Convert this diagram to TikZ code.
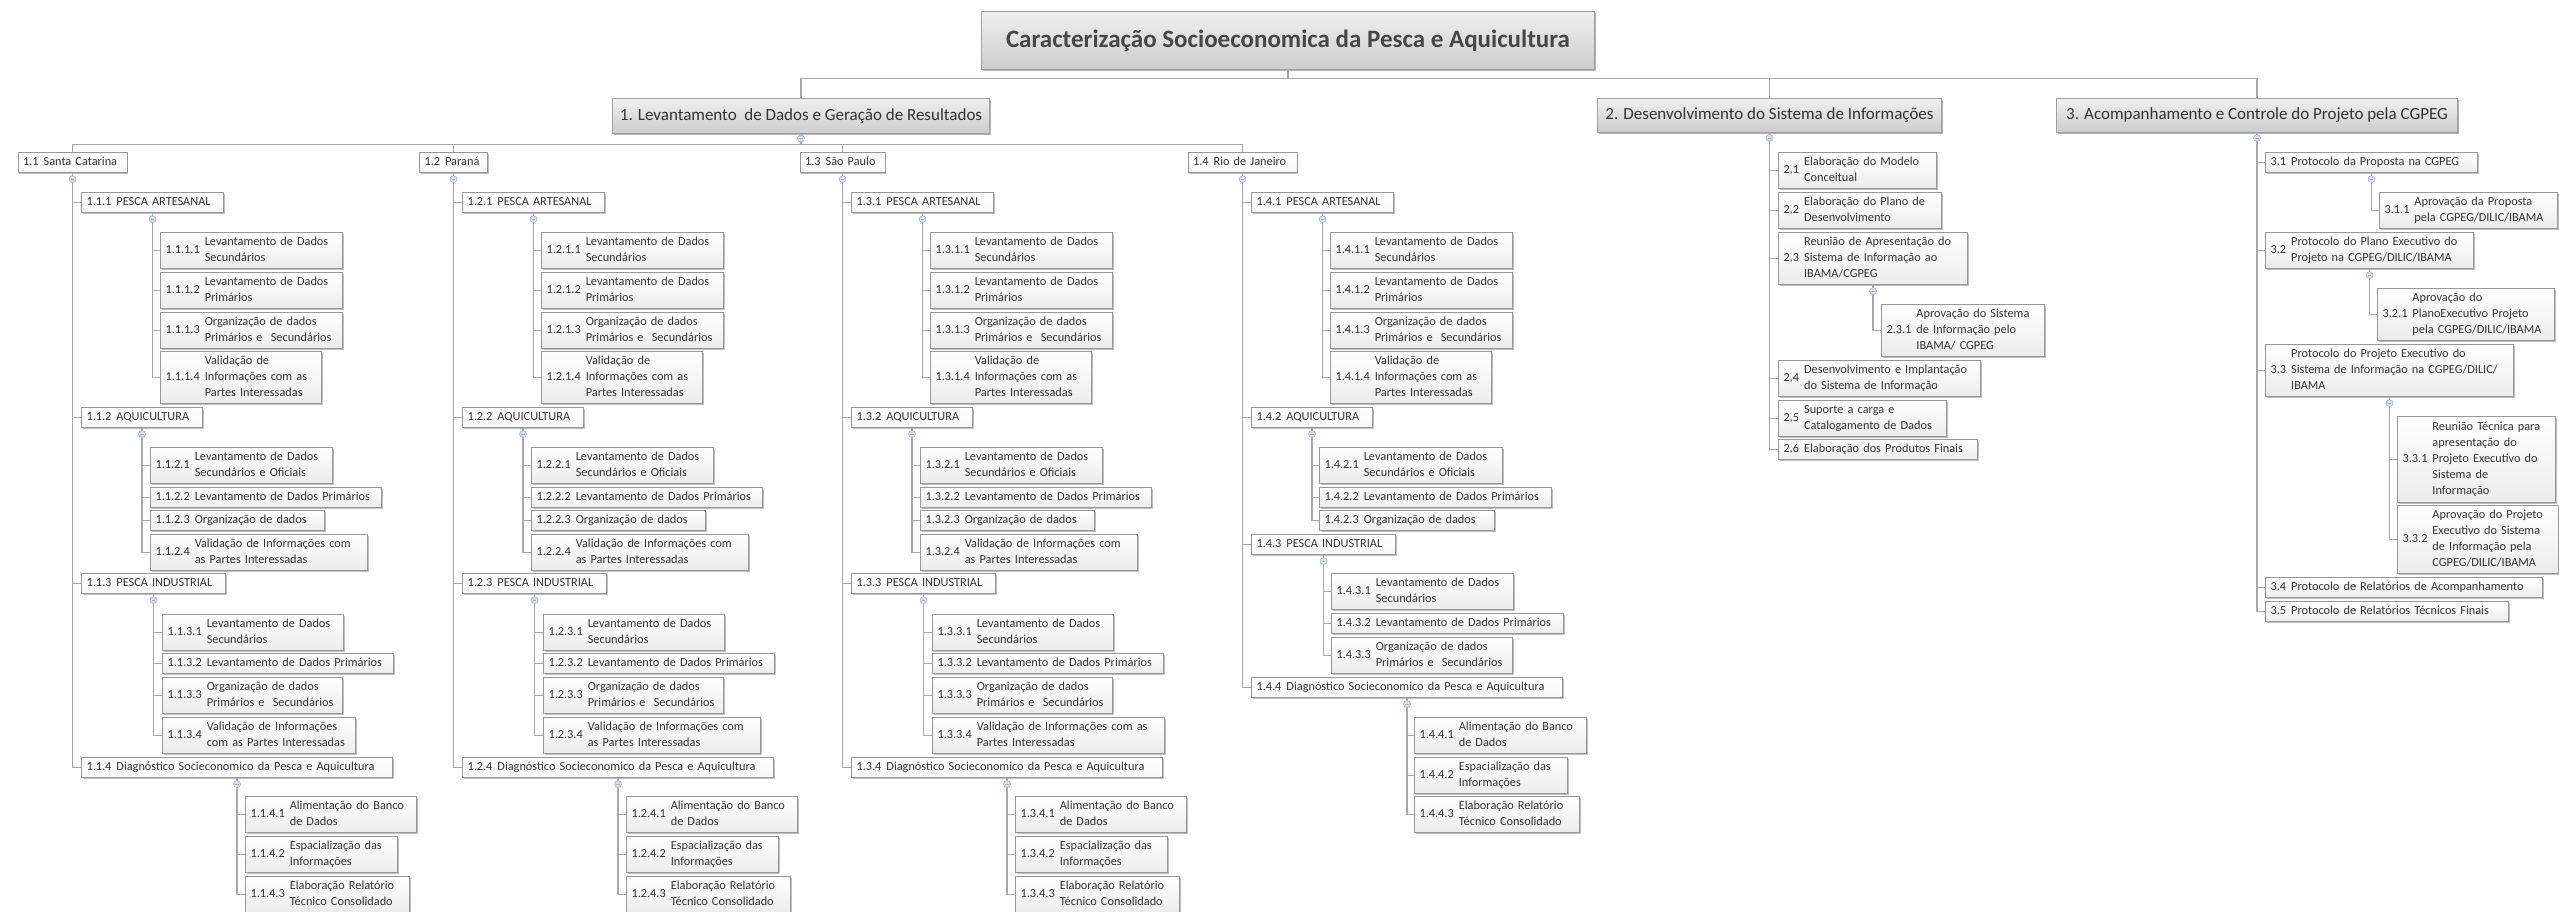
\documentclass[tikz,border=0pt]{standalone}
\usepackage{fontspec}
\setmainfont{Carlito}
\usetikzlibrary{shadows,calc}
\definecolor{bordc}{HTML}{979797}
\definecolor{linec}{HTML}{A8A8A8}
\definecolor{txtc}{HTML}{333333}
\definecolor{circf}{HTML}{D4E0F2}
\definecolor{circd}{HTML}{9DB3D6}
\tikzset{
  base/.style={draw=bordc, line width=1.1pt, inner xsep=5pt, inner ysep=1pt, text=txtc,
    font=\fontsize{12.3}{16}\selectfont, align=left,
    drop shadow={shadow xshift=1.2pt, shadow yshift=-1.2pt, opacity=0.25, fill=black}},
  leaf/.style={base, top color=white, bottom color=gray!15},
  mid/.style={base, top color=white, bottom color=gray!6},
  topbox/.style={draw=gray!75, line width=1pt, top color=gray!12, bottom color=gray!40, text=txtc,
    anchor=north west, inner sep=2pt,
    drop shadow={shadow xshift=1.5pt, shadow yshift=-1.5pt, opacity=0.3, fill=black}},
  conn/.style={draw=linec, line width=1.3pt},
  topconn/.style={draw=linec, line width=1.8pt},
  knobstyle/.style={circle, inner sep=0pt, minimum size=7pt, fill=circf, draw=circd, line width=0.6pt,
    path picture={\draw[circd, line width=0.6pt] ([xshift=-1.8pt]path picture bounding box.center) -- ([xshift=1.8pt]path picture bounding box.center);}},
}
\newcommand\nt[2]{#1\hspace{5pt}\begin{tabular}{@{}l@{}}#2\end{tabular}}
% #1 style, #2 name, #3 x, #4 y, #5 w, #6 h, #7 number, #8 text
\newcommand\bx[8][leaf]{%
  \pgfmathsetmacro\tw{#5-10}%
  \node[#1, anchor=north west, minimum width=#5pt, minimum height=#6pt, text width=\tw pt] (#2) at (#3,#4) {\nt{#7}{#8}};}
\newcommand\knob[2][6]{\node[knobstyle] (k-#2) at ($(#2.south)+(0,#1)$) {};}
% regular column: #1 idx, #2 dx, #3 level2 text, #4 level2 width, #5 x.3.4 text, #6 x.3.4 width
\newcommand\regcol[6]{%
  \pgfmathsetmacro\dx{#2}%
  \pgfmathsetmacro\lx{72+#2-#4/2}%
  \bx[mid]{s#1}{\lx}{152}{#4}{20}{1.#1}{#3}
  \bx[mid]{a#1-1}{81+\dx}{192}{142}{20}{1.#1.1}{PESCA ARTESANAL}
  \bx{a#1-1-1}{160+\dx}{232}{182}{36}{1.#1.1.1}{Levantamento de Dados\\Secundários}
  \bx{a#1-1-2}{160+\dx}{272}{182}{36}{1.#1.1.2}{Levantamento de Dados\\Primários}
  \bx{a#1-1-3}{160+\dx}{312}{182}{36}{1.#1.1.3}{Organização de dados\\Primários e\ \ Secundários}
  \bx{a#1-1-4}{160+\dx}{351}{161}{52}{1.#1.1.4}{Validação de\\Informações com as\\Partes Interessadas}
  \bx[mid]{a#1-2}{81+\dx}{407}{121}{20}{1.#1.2}{AQUICULTURA}
  \bx{a#1-2-1}{150+\dx}{447}{182}{36}{1.#1.2.1}{Levantamento de Dados\\Secundários e Oficiais}
  \bx{a#1-2-2}{150+\dx}{487}{231}{20}{1.#1.2.2}{Levantamento de Dados Primários}
  \bx{a#1-2-3}{150+\dx}{510}{174}{20}{1.#1.2.3}{Organização de dados}
  \bx{a#1-2-4}{150+\dx}{534}{217}{36}{1.#1.2.4}{Validação de Informações com\\as Partes Interessadas}
  \bx[mid]{a#1-3}{81+\dx}{573}{144}{20}{1.#1.3}{PESCA INDUSTRIAL}
  \bx{a#1-3-1}{162+\dx}{614}{181}{36}{1.#1.3.1}{Levantamento de Dados\\Secundários}
  \bx{a#1-3-2}{162+\dx}{653}{231}{20}{1.#1.3.2}{Levantamento de Dados Primários}
  \bx{a#1-3-3}{162+\dx}{677}{180}{36}{1.#1.3.3}{Organização de dados\\Primários e\ \ Secundários}
  \bx{a#1-3-4}{162+\dx}{717}{#6}{36}{1.#1.3.4}{#5}
  \bx[mid]{a#1-4}{81+\dx}{757}{311}{20}{1.#1.4}{Diagnóstico Socieconomico da Pesca e Aquicultura}
  \bx{a#1-4-1}{245+\dx}{796}{171}{36}{1.#1.4.1}{Alimentação do Banco\\de Dados}
  \bx{a#1-4-2}{245+\dx}{836}{152}{36}{1.#1.4.2}{Espacialização das\\Informações}
  \bx{a#1-4-3}{245+\dx}{876}{164}{36}{1.#1.4.3}{Elaboração Relatório\\Técnico Consolidado}
  \foreach \i in {1,...,4} {\draw[conn] (s#1.south) |- (a#1-\i.west);}
  \foreach \i in {1,...,4} {\draw[conn] (a#1-1.south) |- (a#1-1-\i.west);}
  \foreach \i in {1,...,4} {\draw[conn] (a#1-2.south) |- (a#1-2-\i.west);}
  \foreach \i in {1,...,4} {\draw[conn] (a#1-3.south) |- (a#1-3-\i.west);}
  \foreach \i in {1,...,3} {\draw[conn] (a#1-4.south) |- (a#1-4-\i.west);}
  \knob{s#1}\knob{a#1-1}\knob{a#1-2}\knob{a#1-3}\knob{a#1-4}
}
\begin{document}
\begin{tikzpicture}[x=1pt,y=-1pt]
\fill[white] (0,0) rectangle (2559,912);
\useasboundingbox (0,0) rectangle (2559,912);

% top level
\node[topbox, font=\fontsize{25}{30}\selectfont\bfseries, text=txtc!90, minimum width=613pt, minimum height=58pt] (title) at (981,11) {Caracterização Socioeconomica da Pesca e Aquicultura};
\node[topbox, font=\fontsize{17}{20}\selectfont, minimum width=377pt, minimum height=35pt] (L1) at (612,98) {1. Levantamento\ \ de Dados e Geração de Resultados};
\node[topbox, font=\fontsize{17}{20}\selectfont, minimum width=344pt, minimum height=34pt] (L2) at (1597,98) {2. Desenvolvimento do Sistema de Informações};
\node[topbox, font=\fontsize{17}{20}\selectfont, minimum width=401pt, minimum height=34pt] (L3) at (2056,98) {3. Acompanhamento e Controle do Projeto pela CGPEG};

\draw[topconn] (title.south) -- ++(0,8.5) -| (L1.north);
\draw[topconn] (title.south) -- ++(0,8.5) -| (L2.north);
\draw[topconn] (title.south) -- ++(0,8.5) -| (L3.north);

% columns 1.1 - 1.3
\regcol{1}{0}{Santa Catarina}{109}{Validação de Informações\\com as Partes Interessadas}{193}
\regcol{2}{381}{Paraná}{68}{Validação de Informações com\\as Partes Interessadas}{217}
\regcol{3}{770}{São Paulo}{85}{Validação de Informações com as\\Partes Interessadas}{232}

% column 1.4
\bx[mid]{s4}{1187.5}{152}{109}{20}{1.4}{Rio de Janeiro}
\bx[mid]{b1}{1251}{192}{142}{20}{1.4.1}{PESCA ARTESANAL}
\bx{b1-1}{1330}{232}{182}{36}{1.4.1.1}{Levantamento de Dados\\Secundários}
\bx{b1-2}{1330}{272}{182}{36}{1.4.1.2}{Levantamento de Dados\\Primários}
\bx{b1-3}{1330}{312}{182}{36}{1.4.1.3}{Organização de dados\\Primários e\ \ Secundários}
\bx{b1-4}{1330}{351}{161}{52}{1.4.1.4}{Validação de\\Informações com as\\Partes Interessadas}
\bx[mid]{b2}{1251}{407}{121}{20}{1.4.2}{AQUICULTURA}
\bx{b2-1}{1319}{447}{183}{36}{1.4.2.1}{Levantamento de Dados\\Secundários e Oficiais}
\bx{b2-2}{1319}{487}{232}{20}{1.4.2.2}{Levantamento de Dados Primários}
\bx{b2-3}{1319}{510}{175}{20}{1.4.2.3}{Organização de dados}
\bx[mid]{b3}{1251}{534}{144}{20}{1.4.3}{PESCA INDUSTRIAL}
\bx{b3-1}{1331}{573}{182}{36}{1.4.3.1}{Levantamento de Dados\\Secundários}
\bx{b3-2}{1331}{613}{232}{20}{1.4.3.2}{Levantamento de Dados Primários}
\bx{b3-3}{1331}{637}{181}{36}{1.4.3.3}{Organização de dados\\Primários e\ \ Secundários}
\bx[mid]{b4}{1251}{677}{311}{20}{1.4.4}{Diagnóstico Socieconomico da Pesca e Aquicultura}
\bx{b4-1}{1414}{717}{172}{36}{1.4.4.1}{Alimentação do Banco\\de Dados}
\bx{b4-2}{1414}{757}{153}{36}{1.4.4.2}{Espacialização das\\Informações}
\bx{b4-3}{1414}{796}{165}{36}{1.4.4.3}{Elaboração Relatório\\Técnico Consolidado}
\foreach \i in {1,...,4} {\draw[conn] (s4.south) |- (b\i.west);}
\foreach \i in {1,...,4} {\draw[conn] (b1.south) |- (b1-\i.west);}
\foreach \i in {1,...,3} {\draw[conn] (b2.south) |- (b2-\i.west);}
\foreach \i in {1,...,3} {\draw[conn] (b3.south) |- (b3-\i.west);}
\foreach \i in {1,...,3} {\draw[conn] (b4.south) |- (b4-\i.west);}
\knob{s4}\knob{b1}\knob{b2}\knob{b3}\knob{b4}

% L1 to states
\foreach \s in {s1,s2,s3,s4} {\draw[conn, line width=1.6pt] (L1.south) -- ++(0,10.5) -| (\s.north);}
\knob[4.5]{L1}

% column 2
\bx{d1}{1778}{152}{158}{36}{2.1}{Elaboração do Modelo\\Conceitual}
\bx{d2}{1778}{192}{163}{36}{2.2}{Elaboração do Plano de\\Desenvolvimento}
\bx{d3}{1778}{232}{189}{52}{2.3}{Reunião de Apresentação do\\Sistema de Informação ao\\IBAMA/CGPEG}
\bx{d3-1}{1881}{304}{163}{52}{2.3.1}{Aprovação do Sistema\\de Informação pelo\\IBAMA/ CGPEG}
\bx{d4}{1778}{360}{202}{36}{2.4}{Desenvolvimento e Implantação\\do Sistema de Informação}
\bx{d5}{1778}{400}{168}{36}{2.5}{Suporte a carga e\\Catalogamento de Dados}
\bx{d6}{1778}{439}{199}{20}{2.6}{Elaboração dos Produtos Finais}
\foreach \i in {1,...,6} {\draw[conn] (L2.south) |- (d\i.west);}
\draw[conn] (d3.south) |- (d3-1.west);
\knob[5]{L2}\knob{d3}

% column 3
\bx{e1}{2265}{152}{212}{20}{3.1}{Protocolo da Proposta na CGPEG}
\bx{e1-1}{2379}{192}{178}{36}{3.1.1}{Aprovação da Proposta\\pela CGPEG/DILIC/IBAMA}
\bx{e2}{2265}{232}{208}{36}{3.2}{Protocolo do Plano Executivo do\\Projeto na CGPEG/DILIC/IBAMA}
\bx{e2-1}{2377}{288}{177}{52}{3.2.1}{Aprovação do\\PlanoExecutivo Projeto\\pela CGPEG/DILIC/IBAMA}
\bx{e3}{2265}{344}{248}{52}{3.3}{Protocolo do Projeto Executivo do\\Sistema de Informação na CGPEG/DILIC/\\IBAMA}
\bx{e3-1}{2397}{416}{158}{86}{3.3.1}{Reunião Técnica para\\apresentação do\\Projeto Executivo do\\Sistema de\\Informação}
\bx{e3-2}{2397}{505}{161}{68}{3.3.2}{Aprovação do Projeto\\Executivo do Sistema\\de Informação pela\\CGPEG/DILIC/IBAMA}
\bx{e4}{2265}{577}{277}{20}{3.4}{Protocolo de Relatórios de Acompanhamento}
\bx{e5}{2265}{601}{243}{20}{3.5}{Protocolo de Relatórios Técnicos Finais}
\foreach \i in {1,...,5} {\draw[conn] (L3.south) |- (e\i.west);}
\draw[conn] (e1.south) |- (e1-1.west);
\draw[conn] (e2.south) |- (e2-1.west);
\draw[conn] (e3.south) |- (e3-1.west);
\draw[conn] (e3.south) |- (e3-2.west);
\knob[5]{L3}\knob{e1}\knob{e2}\knob{e3}
\end{tikzpicture}
\end{document}
